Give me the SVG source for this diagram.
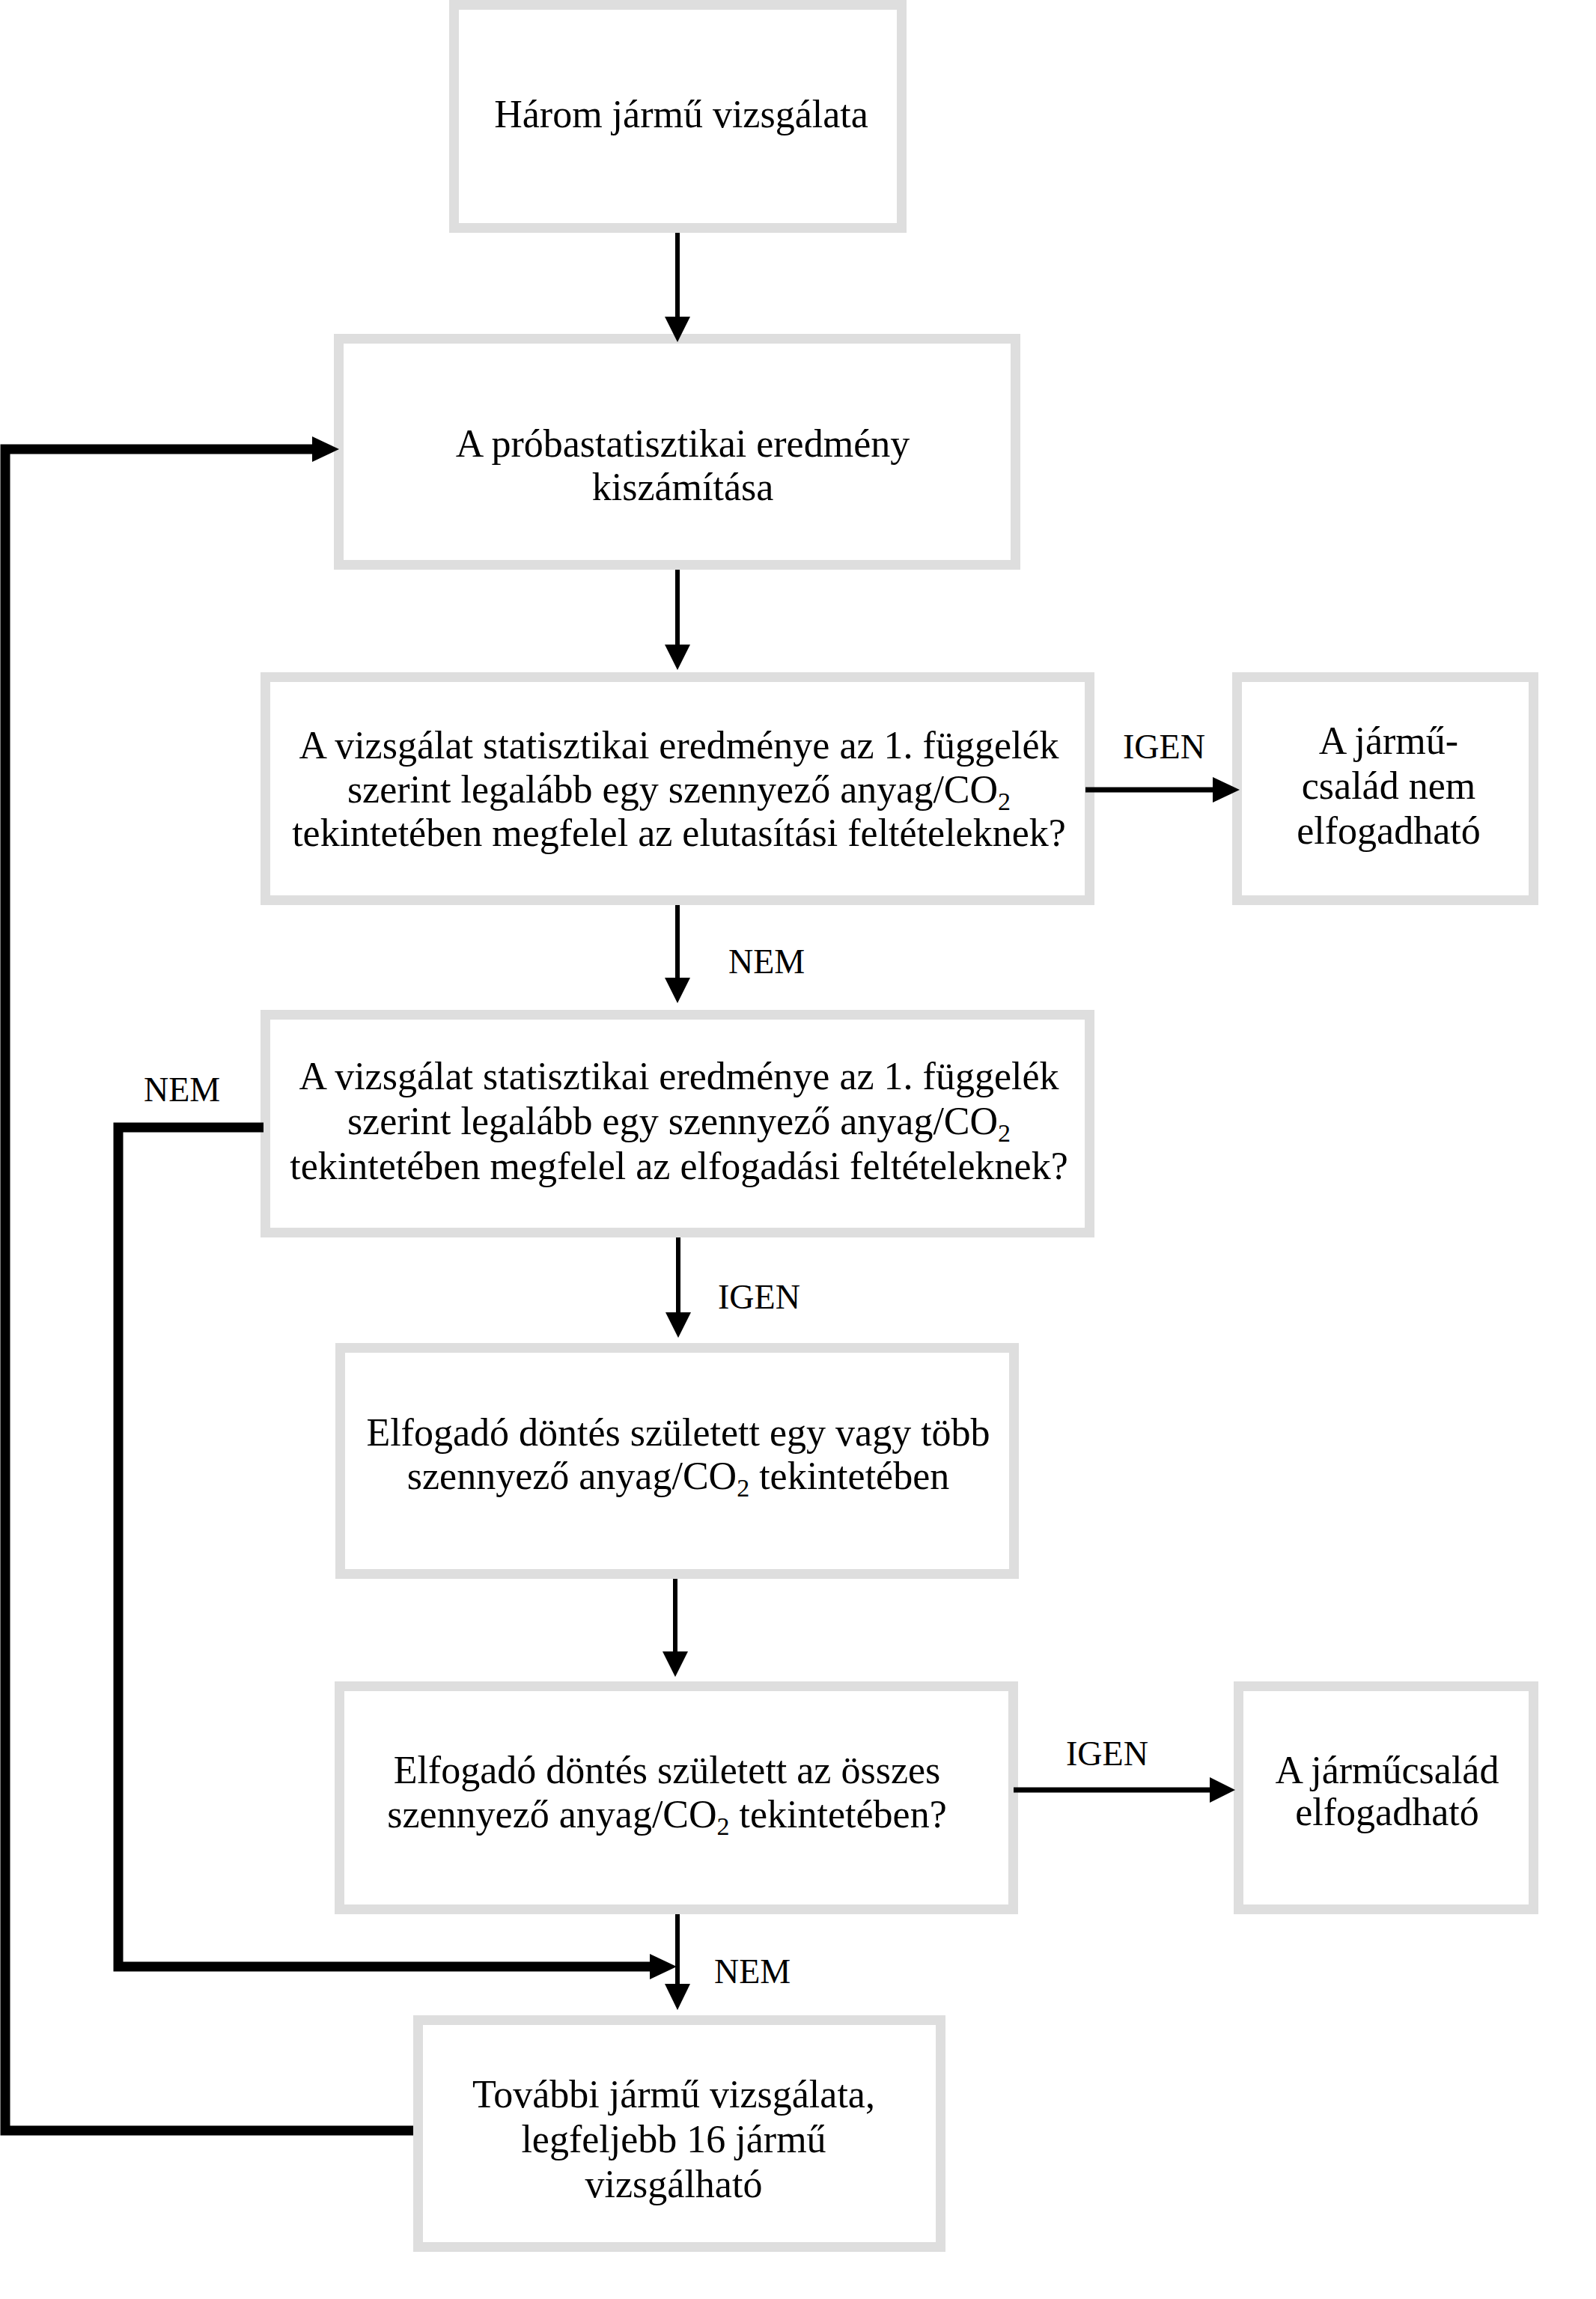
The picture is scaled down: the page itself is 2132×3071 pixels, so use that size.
<svg xmlns="http://www.w3.org/2000/svg" width="2132" height="3071" viewBox="0 0 2132 3071">
<style>
.box{fill:#fff;stroke:#dedede;stroke-width:13}
.t{font-family:"Liberation Serif","Times New Roman",serif;font-size:52px;fill:#000;text-anchor:middle}
.lbl{font-family:"Liberation Serif","Times New Roman",serif;font-size:46px;fill:#000}
.thin{stroke:#000;stroke-width:6;fill:none}
.mid{stroke:#000;stroke-width:7;fill:none}
.thick{stroke:#000;stroke-width:13;fill:none;stroke-linejoin:miter;stroke-linecap:butt}
.head{fill:#000}
.sub{font-size:34px}
</style>
<rect x="0" y="0" width="2132" height="3071" fill="#fff"/>
<g id="n1"><rect class="box" x="606.5" y="6.5" width="598" height="298"/>
<text class="t" x="910" y="170">Három jármű vizsgálata</text></g>
<g id="n2"><rect class="box" x="452.5" y="452.5" width="904" height="302"/>
<text class="t" x="912" y="610">A próbastatisztikai eredmény</text>
<text class="t" x="912" y="668">kiszámítása</text></g>
<g id="n3"><rect class="box" x="354.5" y="904.5" width="1101" height="298"/>
<text class="t" x="907" y="1013">A vizsgálat statisztikai eredménye az 1. függelék</text>
<text class="t" x="907" y="1072">szerint legalább egy szennyező anyag/CO<tspan class="sub" dy="10">2</tspan></text>
<text class="t" x="907" y="1130">tekintetében megfelel az elutasítási feltételeknek?</text></g>
<g id="n4"><rect class="box" x="1652.5" y="904.5" width="396" height="298"/>
<text class="t" x="1855" y="1007">A jármű-</text>
<text class="t" x="1855" y="1067">család nem</text>
<text class="t" x="1855" y="1127">elfogadható</text></g>
<g id="n5"><rect class="box" x="354.5" y="1355.5" width="1101" height="291"/>
<text class="t" x="907" y="1455">A vizsgálat statisztikai eredménye az 1. függelék</text>
<text class="t" x="907" y="1515">szerint legalább egy szennyező anyag/CO<tspan class="sub" dy="10">2</tspan></text>
<text class="t" x="907" y="1575">tekintetében megfelel az elfogadási feltételeknek?</text></g>
<g id="n6"><rect class="box" x="454.5" y="1800.5" width="900" height="302"/>
<text class="t" x="906" y="1931">Elfogadó döntés született egy vagy több</text>
<text class="t" x="906" y="1989">szennyező anyag/CO<tspan class="sub" dy="10">2</tspan><tspan dy="-10"> tekintetében</tspan></text></g>
<g id="n7"><rect class="box" x="453.5" y="2252.5" width="900" height="298"/>
<text class="t" x="891" y="2382">Elfogadó döntés született az összes</text>
<text class="t" x="891" y="2441">szennyező anyag/CO<tspan class="sub" dy="10">2</tspan><tspan dy="-10"> tekintetében?</tspan></text></g>
<g id="n8"><rect class="box" x="1654.5" y="2252.5" width="394" height="298"/>
<text class="t" x="1853" y="2382">A járműcsalád</text>
<text class="t" x="1853" y="2438">elfogadható</text></g>
<g id="n9"><rect class="box" x="558.5" y="2698.5" width="698" height="303"/>
<text class="t" x="900" y="2815">További jármű vizsgálata,</text>
<text class="t" x="900" y="2875">legfeljebb 16 jármű</text>
<text class="t" x="900" y="2935">vizsgálható</text></g>
<g id="connectors">
<line class="thin" x1="905" y1="311" x2="905" y2="425"/>
<polygon class="head" points="888,423 922,423 905,457"/>
<line class="thin" x1="905" y1="761" x2="905" y2="863"/>
<polygon class="head" points="888,861 922,861 905,895"/>
<line class="mid" x1="1450" y1="1055" x2="1622" y2="1055"/>
<polygon class="head" points="1620,1038 1620,1072 1656,1055"/>
<line class="thin" x1="905" y1="1209" x2="905" y2="1308"/>
<polygon class="head" points="888,1306 922,1306 905,1340"/>
<line class="thin" x1="906" y1="1653" x2="906" y2="1755"/>
<polygon class="head" points="889,1753 923,1753 906,1787"/>
<line class="thin" x1="902" y1="2109" x2="902" y2="2208"/>
<polygon class="head" points="885,2206 919,2206 902,2240"/>
<line class="mid" x1="1354" y1="2391" x2="1618" y2="2391"/>
<polygon class="head" points="1616,2374 1616,2408 1650,2391"/>
<line class="thin" x1="905" y1="2557" x2="905" y2="2652"/>
<polygon class="head" points="888,2650 922,2650 905,2685"/>
<polyline class="thick" points="352,1506 158,1506 158,2627 870,2627"/>
<polygon class="head" points="868,2610 868,2644 904,2627"/>
<polyline class="thick" points="552,2846 7,2846 7,600 420,600"/>
<polygon class="head" points="417,583 417,617 453,600"/>
<text class="lbl" x="1500" y="1013">IGEN</text>
<text class="lbl" x="973" y="1300">NEM</text>
<text class="lbl" x="192" y="1471">NEM</text>
<text class="lbl" x="959" y="1748">IGEN</text>
<text class="lbl" x="1424" y="2358">IGEN</text>
<text class="lbl" x="954" y="2649">NEM</text>
</g>
</svg>
